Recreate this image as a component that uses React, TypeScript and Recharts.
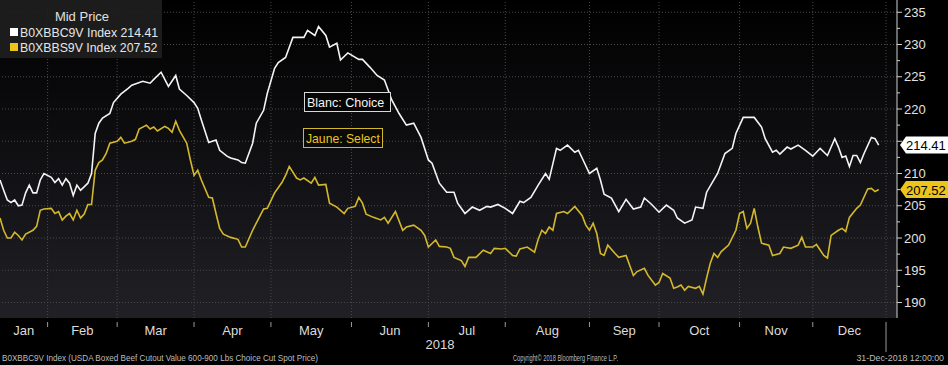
import { LineChart, Line, XAxis, YAxis, CartesianGrid, ReferenceLine } from 'recharts'

// trading-day index (0 = 12-Jan-2018) and mid price
const choiceDays = [
  0, 1, 2, 3, 4, 5, 6, 7, 8, 9, 10, 11, 12, 14, 15, 16, 17, 18, 19, 20, 21, 22, 24, 25, 26, 27, 28, 30, 31, 33,
  35, 36, 39, 41, 42, 44, 46, 48, 49, 51, 53, 54, 55, 57, 59, 60, 62, 63, 65, 66, 67, 69, 70, 72, 73, 75, 76, 78,
  80, 83, 84, 86, 87, 89, 90, 92, 93, 95, 98, 99, 101, 103, 105, 107, 109, 111, 113, 115, 117, 118, 120, 122, 124,
  125, 127, 129, 131, 133, 134, 136, 138, 140, 142, 143, 145, 147, 149, 150, 152, 153, 155, 157, 158, 159, 161, 163,
  164, 165, 167, 169, 171, 173, 175, 176, 178, 180, 182, 184, 185, 187, 189, 190, 192, 193, 196, 198, 200, 201, 203,
  205, 206, 208, 209, 211, 212, 213, 215, 216, 218, 220, 222, 223, 224, 226, 228, 229, 230, 231, 232, 233, 234, 235,
  236, 238, 239, 240,
]
const choiceVals = [
  209.0, 207.4, 205.9, 205.5, 205.9, 205.0, 205.1, 207.0, 208.2, 207.0, 207.0, 209.0, 210.0, 209.4, 208.6, 209.2,
  208.2, 209.2, 208.5, 206.6, 208.2, 207.4, 208.5, 210.0, 216.2, 217.8, 218.6, 219.3, 221.0, 222.3, 223.2, 223.7,
  224.3, 224.0, 224.6, 225.7, 223.5, 225.2, 223.1, 222.1, 221.0, 220.1, 218.3, 214.8, 215.2, 213.6, 212.7, 212.4,
  212.1, 211.7, 211.6, 214.7, 217.8, 219.8, 222.4, 226.3, 227.2, 228.0, 231.1, 231.1, 232.2, 231.4, 232.8, 231.4,
  229.6, 230.2, 227.6, 228.7, 227.7, 227.7, 226.5, 225.2, 224.5, 221.4, 219.3, 217.5, 217.8, 215.6, 212.1, 211.6,
  208.5, 207.1, 207.1, 205.4, 203.8, 204.8, 204.3, 204.9, 204.8, 205.2, 204.6, 203.8, 205.7, 205.5, 206.3, 208.2,
  210.0, 209.1, 213.9, 213.6, 214.4, 213.3, 213.6, 212.4, 210.0, 210.8, 209.0, 206.8, 206.2, 204.1, 206.0, 204.5,
  204.8, 206.2, 205.2, 204.0, 205.1, 204.3, 203.1, 202.3, 202.8, 204.8, 204.6, 207.1, 210.0, 213.1, 213.9, 216.2,
  218.7, 218.7, 218.7, 217.2, 215.4, 213.3, 213.6, 213.0, 214.1, 213.8, 214.4, 213.6, 212.7, 213.3, 213.9, 212.8,
  215.4, 214.1, 212.5, 212.7, 211.1, 212.8, 212.8, 211.7, 213.1, 215.6, 215.4, 214.41,
]

const selectDays = [
  0, 1, 2, 3, 4, 5, 6, 7, 9, 10, 11, 12, 14, 15, 16, 17, 18, 19, 20, 21, 22, 23, 24, 25, 26, 27, 28, 29, 30, 32,
  33, 34, 36, 37, 38, 40, 41, 42, 43, 45, 46, 47, 48, 49, 51, 52, 53, 54, 55, 57, 58, 59, 60, 61, 63, 65, 66, 67,
  69, 70, 72, 73, 75, 77, 78, 79, 81, 82, 83, 85, 86, 87, 89, 90, 92, 94, 95, 97, 98, 99, 100, 102, 104, 105, 106,
  108, 110, 111, 113, 115, 116, 117, 119, 120, 122, 123, 124, 126, 127, 128, 130, 132, 134, 135, 137, 138, 140, 141,
  142, 144, 146, 147, 148, 149, 150, 151, 152, 154, 155, 157, 159, 160, 161, 162, 163, 164, 165, 166, 168, 169, 171,
  173, 174, 176, 177, 179, 180, 181, 183, 184, 185, 186, 187, 188, 190, 191, 192, 193, 194, 195, 196, 197, 199, 201,
  202, 203, 204, 205, 206, 207, 208, 210, 211, 213, 214, 216, 218, 219, 220, 222, 223, 225, 226, 227, 229, 230, 231,
  232, 234, 235, 237, 238, 239, 240,
]
const selectVals = [
  203.1, 201.2, 200.0, 200.0, 200.9, 200.4, 199.7, 200.6, 201.2, 201.8, 204.3, 204.5, 204.6, 203.8, 204.1, 202.8,
  203.4, 203.8, 202.8, 204.3, 203.1, 203.7, 205.2, 205.2, 210.5, 211.7, 212.1, 213.1, 214.7, 215.0, 215.6, 214.7,
  215.0, 215.3, 216.9, 217.5, 216.9, 217.2, 216.6, 217.3, 217.0, 216.4, 218.1, 216.7, 214.7, 212.1, 209.7, 210.5,
  209.0, 206.3, 206.2, 203.8, 201.5, 200.6, 200.1, 199.8, 198.6, 198.6, 201.2, 202.3, 204.5, 204.6, 207.0, 208.6,
  209.7, 211.1, 209.3, 209.0, 209.3, 208.5, 209.4, 208.2, 208.3, 205.4, 204.8, 203.8, 204.6, 204.9, 206.3, 205.4,
  203.7, 203.2, 202.8, 203.2, 202.3, 204.1, 201.2, 201.7, 202.0, 201.2, 200.4, 198.6, 199.7, 198.7, 198.6, 198.4,
  197.0, 196.5, 195.6, 197.0, 197.0, 198.1, 197.6, 198.4, 198.3, 198.4, 197.3, 197.2, 198.3, 198.6, 197.8, 199.8,
  201.2, 200.7, 201.7, 201.2, 203.8, 204.1, 203.8, 204.9, 203.5, 202.0, 201.2, 202.3, 200.7, 197.6, 197.3, 198.9,
  197.6, 197.0, 197.3, 194.2, 194.8, 195.3, 194.2, 192.7, 193.1, 194.5, 193.8, 192.2, 192.4, 192.7, 191.9, 192.5,
  192.2, 192.5, 191.3, 193.8, 196.1, 197.6, 197.0, 197.9, 198.9, 201.2, 203.8, 204.1, 201.5, 202.3, 204.6, 201.7,
  199.2, 198.9, 197.3, 197.6, 198.6, 198.4, 198.9, 200.1, 198.6, 198.6, 199.0, 197.3, 196.9, 200.4, 201.2, 201.5,
  201.0, 203.2, 204.6, 205.1, 207.6, 207.7, 207.2, 207.52,
]

const monthStarts = [13, 32, 53, 74, 96, 117, 138, 161, 180, 202, 222, 242]
const monthMids = [6.5, 22.5, 42.5, 63.5, 85, 106.5, 127.5, 149.5, 170.5, 191, 212, 232]
const monthNames = ['Jan', 'Feb', 'Mar', 'Apr', 'May', 'Jun', 'Jul', 'Aug', 'Sep', 'Oct', 'Nov', 'Dec']
const majorTicks = [190, 195, 200, 205, 210, 215, 220, 225, 230, 235]
const axisTicks = [190, 192.5, 195, 197.5, 200, 202.5, 205, 207.5, 210, 212.5, 215, 217.5, 220, 222.5, 225, 227.5, 230, 232.5, 235]
const lastChoice = 214.41
const lastSelect = 207.52

const choiceData = choiceDays.map((d, i) => ({ day: d, v: choiceVals[i] }))
const selectData = selectDays.map((d, i) => ({ day: d, v: selectVals[i] }))

const FONT = '"Liberation Sans", Arial, sans-serif'
const WHITE = '#f4f4f4'
const GOLD = '#d4b82c'
const TAG_GOLD = '#ecc41c'
const GRID = '#4a4a4a'

function YTick({ x, y, payload }: any) {
  const v = payload.value
  const major = v % 5 === 0
  const hidden = Math.abs(v - lastChoice) < 1.5 || Math.abs(v - lastSelect) < 1.5
  return (
    <g>
      <line x1={x} y1={y} x2={x + (major ? 5 : 3)} y2={y} stroke="#cfcfcf" />
      {major && !hidden && (
        <text x={x + 7} y={y + 4.5} fontSize={13} fill="#e2e2e2" fontFamily={FONT}>
          {v}
        </text>
      )}
    </g>
  )
}

function MonthTick({ x, y, payload }: any) {
  const last = payload.value === monthStarts[monthStarts.length - 1]
  return <line x1={x} y1={y - 4} x2={x} y2={last ? y + 26 : y + 1} stroke="#9a9a9a" />
}

function MonthLabel({ x, y, payload }: any) {
  const name = monthNames[monthMids.indexOf(payload.value)]
  return (
    <text x={x} y={y + 4} textAnchor="middle" fontSize={13} fill="#dcdcdc" fontFamily={FONT}>
      {name}
    </text>
  )
}

function Tag(value: number, fill: string) {
  return (props: any) => {
    const vb = props.viewBox
    const x = vb.x + vb.width
    const y = vb.y
    return (
      <g>
        <polygon
          points={`${x + 3},${y} ${x + 9},${y - 8.5} ${x + 51},${y - 8.5} ${x + 51},${y + 8.5} ${x + 9},${y + 8.5}`}
          fill={fill}
        />
        <text x={x + 9} y={y + 5} fontSize={13} fill="#000" fontFamily={FONT}>
          {value.toFixed(2)}
        </text>
      </g>
    )
  }
}

export default function App() {
  return (
    <div style={{ position: 'relative', width: 948, height: 365, background: '#000', overflow: 'hidden' }}>
      <style>{'body{margin:0;background:#000}'}</style>
      <svg width={0} height={0} style={{ position: 'absolute' }}>
        <defs>
          <linearGradient id="plotBg" x1="0" y1="0" x2="0" y2="1">
            <stop offset="0%" stopColor="#000000" />
            <stop offset="100%" stopColor="#202026" />
          </linearGradient>
        </defs>
      </svg>
      <LineChart width={948} height={365} margin={{ top: 0, right: 0, bottom: 12, left: 0 }}>
        <CartesianGrid fill="url(#plotBg)" horizontal={false} vertical={false} />
        <XAxis
          dataKey="day"
          type="number"
          domain={[0, 245]}
          ticks={monthStarts}
          interval={0}
          height={5}
          axisLine={false}
          tickLine={false}
          tick={<MonthTick />}
          allowDataOverflow
        />
        <XAxis
          xAxisId="lbl"
          dataKey="day"
          type="number"
          domain={[0, 245]}
          ticks={monthMids}
          interval={0}
          height={30}
          axisLine={false}
          tickLine={false}
          tick={<MonthLabel />}
          allowDataOverflow
        />
        <YAxis
          orientation="right"
          type="number"
          domain={[187.6, 236.9]}
          ticks={axisTicks}
          interval={0}
          width={51}
          tickSize={0}
          tickMargin={0}
          axisLine={{ stroke: '#d0d0d0' }}
          tick={<YTick />}
          allowDataOverflow
        />
        {majorTicks.map((t) => (
          <ReferenceLine key={'h' + t} y={t} stroke={GRID} strokeDasharray="1 2" />
        ))}
        {monthStarts.map((t) => (
          <ReferenceLine key={'v' + t} x={t} stroke={GRID} strokeDasharray="1 2" />
        ))}
        <Line
          data={selectData}
          dataKey="v"
          type="linear"
          stroke={GOLD}
          strokeWidth={1.6}
          dot={false}
          activeDot={false}
          isAnimationActive={false}
        />
        <Line
          data={choiceData}
          dataKey="v"
          type="linear"
          stroke={WHITE}
          strokeWidth={1.6}
          dot={false}
          activeDot={false}
          isAnimationActive={false}
        />
        <ReferenceLine y={lastChoice} stroke="none" label={Tag(lastChoice, '#ffffff')} />
        <ReferenceLine y={lastSelect} stroke="none" label={Tag(lastSelect, TAG_GOLD)} />
      </LineChart>
      <svg
        width={948}
        height={365}
        style={{ position: 'absolute', left: 0, top: 0, pointerEvents: 'none' }}
        fontFamily={FONT}
      >
        <rect x={0} y={0} width={162} height={58} fill="#1e1e1e" opacity={0.92} />
        <text x={82} y={21} textAnchor="middle" fontSize={13} fill="#e0e0e0">Mid Price</text>
        <rect x={10} y={28} width={8} height={8} fill="#ffffff" />
        <text x={20} y={37} fontSize={12.3} fill="#e6e6e6">B0XBBC9V Index {lastChoice.toFixed(2)}</text>
        <rect x={10} y={43} width={8} height={8} fill={TAG_GOLD} />
        <text x={20} y={52} fontSize={12.3} fill="#e6e6e6">B0XBBS9V Index {lastSelect.toFixed(2)}</text>

        <rect x={304.5} y={92.5} width={86} height={19} fill="#050505" stroke="#d8d8d8" />
        <text x={307} y={107} fontSize={12.5} fill="#f4f4f4">Blanc: Choice</text>
        <rect x={303.5} y={128.5} width={79} height={19} fill="#0a0a0a" stroke={GOLD} />
        <text x={306} y={143} fontSize={12.2} fill={TAG_GOLD}>Jaune: Select</text>

        <text x={440} y={349} textAnchor="middle" fontSize={13} fill="#dcdcdc">2018</text>
        <text x={2} y={361} fontSize={9.5} fill="#bcbcbc" textLength={316} lengthAdjust="spacingAndGlyphs">
          B0XBBC9V Index (USDA Boxed Beef Cutout Value 600-900 Lbs Choice Cut Spot Price)
        </text>
        <text x={513} y={361} fontSize={9.5} fill="#bcbcbc" textLength={105} lengthAdjust="spacingAndGlyphs">
          Copyright© 2018 Bloomberg Finance L.P.
        </text>
        <text x={944} y={361} textAnchor="end" fontSize={8.8} fill="#bcbcbc">
          31-Dec-2018 12:00:00
        </text>
      </svg>
    </div>
  )
}
